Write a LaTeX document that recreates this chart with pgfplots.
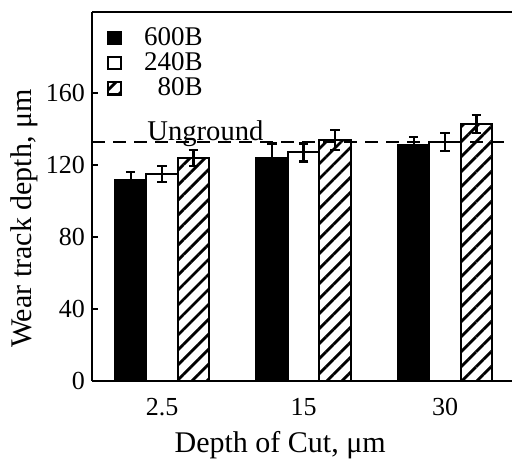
\documentclass[border=0pt]{standalone}
\usepackage{fontspec}
\setmainfont{Liberation Serif}
\usepackage{pgfplots}
\pgfplotsset{compat=1.18}
\usetikzlibrary{patterns.meta}

\pgfplotsset{
  errstyle/.style={
    error bars/.cd, y dir=both, y explicit,
    error bar style={line width=1.1pt, black, solid},
    error mark options={rotate=90, mark size=2.4pt, line width=1.1pt, black, solid},
  },
}

\begin{document}
\begin{tikzpicture}
\begin{axis}[
  scale only axis,
  width=210pt, height=184.5pt,
  xmin=-0.495, xmax=2.473,
  ymin=0, ymax=205,
  axis x line=box, axis y line=left,
  axis line style={-, line width=0.8pt},
  xtick={0,1,2}, xticklabels={2.5,15,30},
  ytick={0,40,80,120,160},
  major x tick style={draw=none},
  ytick align=inside,
  major y tick style={line width=0.7pt, black},
  major tick length=3pt,
  /pgf/number format/assume math mode=true,
  tick label style={font=\fontsize{13}{15}\selectfont},
  xticklabel style={yshift=-5pt},
  xlabel={Depth of Cut, μm},
  ylabel={Wear track depth, μm},
  label style={font=\fontsize{15}{17}\selectfont},
  xlabel style={at={(axis description cs:0.448,-0.195)}, anchor=base},
  ylabel style={at={(axis description cs:-0.143,0.44)}, anchor=base, rotate=0},
  legend cell align=right,
  legend style={at={(axis description cs:0.03,0.975)}, anchor=north west,
    draw=none, fill=none, font=\fontsize{13.5}{15}\selectfont,
    row sep=-2pt, inner sep=1pt,
    /tikz/every odd column/.append style={column sep=9pt}},
  legend image code/.code={\draw[#1] (0pt,-3.2pt) rectangle (6.4pt,3.2pt);},
]
\coordinate (O) at (rel axis cs:0,0);
\addplot[ybar, bar width=0.224, bar shift=0, fill=black, draw=black, line width=0.9pt, errstyle]
  coordinates {(-0.222,112) +- (0,4) (0.778,124) +- (0,8) (1.778,131) +- (0,4.5)};
\addlegendentry{600B}
\addplot[ybar, bar width=0.224, bar shift=0, fill=white, draw=black, line width=1pt, errstyle]
  coordinates {(0,115) +- (0,4.3) (1,127) +- (0,5) (2,133) +- (0,5)};
\addlegendentry{240B}
\addplot[ybar, bar width=0.224, bar shift=0, draw=black, line width=1.1pt,
  pattern={Lines[angle=45,distance=5.3pt,line width=1.4pt]}, errstyle]
  coordinates {(0.222,124) +- (0,4.5) (1.222,134) +- (0,5.5) (2.222,143) +- (0,5)};
\addlegendentry{80B}
\addplot[forget plot, sharp plot, black, line width=0.9pt, dash pattern=on 6.5pt off 4pt]
  coordinates {(-0.495,133) (2.44,133)};
\node[anchor=base west, inner sep=0pt, font=\fontsize{14.3}{16}\selectfont] at (axis cs:-0.106,133.5) {Unground};
\end{axis}
\pgfresetboundingbox
\path[use as bounding box] ([shift={(-46pt,-43.5pt)}]O) rectangle ([shift={(210pt,190.5pt)}]O);
\end{tikzpicture}
\end{document}
